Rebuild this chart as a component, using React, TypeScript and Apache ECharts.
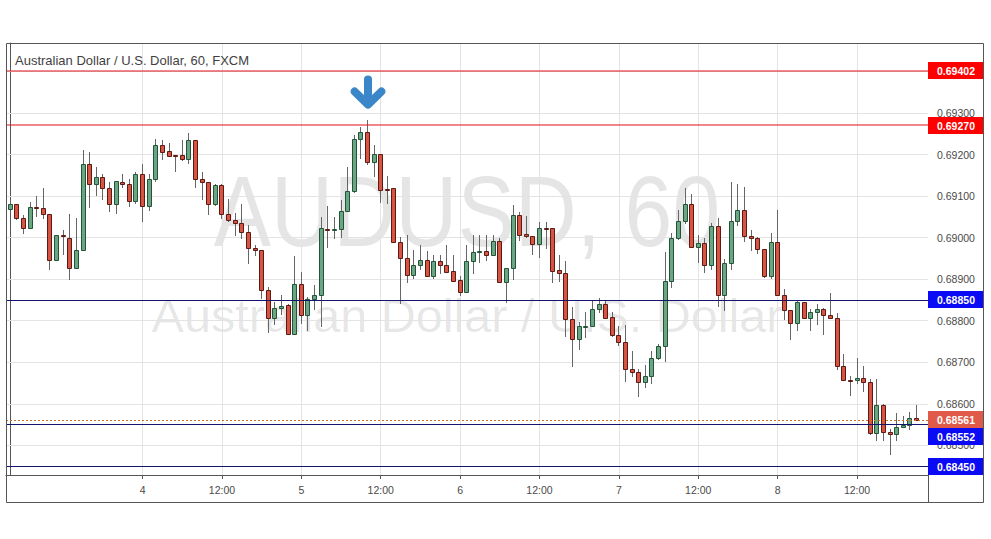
import React, { useEffect, useRef } from "react";
import * as echarts from "echarts";

// Hourly candles, AUD/USD 60, FXCM (index 0 = first visible hour)
const openPrices = [
  0.6907, 0.6908, 0.69046, 0.69022, 0.69074, 0.69072, 0.69058, 0.68947, 0.69006, 0.69,
  0.68928, 0.68971, 0.69178, 0.69128, 0.69145, 0.6912, 0.69082, 0.69135, 0.6913, 0.69088,
  0.69152, 0.69076, 0.6914, 0.69224, 0.69208, 0.69199, 0.69198, 0.69188, 0.69235, 0.69142,
  0.69133, 0.69082, 0.69126, 0.69057, 0.69043, 0.69034, 0.69014, 0.68976, 0.68971, 0.68875,
  0.68807, 0.68831, 0.68837, 0.68769, 0.68889, 0.68814, 0.68853, 0.68863, 0.69021, 0.6902,
  0.6902, 0.69064, 0.69113, 0.69237, 0.69253, 0.69182, 0.69202, 0.69117, 0.69119, 0.6899,
  0.68951, 0.68911, 0.68935, 0.68945, 0.68908, 0.68943, 0.68933, 0.68919, 0.68897, 0.68869,
  0.68943, 0.68965, 0.68967, 0.68959, 0.68991, 0.68893, 0.68927, 0.69055, 0.69009, 0.69004,
  0.68985, 0.69022, 0.69022, 0.68921, 0.68916, 0.68805, 0.68757, 0.68787, 0.68787, 0.68827,
  0.68841, 0.68808, 0.68766, 0.68749, 0.68684, 0.68676, 0.68652, 0.68667, 0.68711, 0.68738,
  0.68895, 0.69, 0.69039, 0.69082, 0.68978, 0.68988, 0.68933, 0.69027, 0.68861, 0.6894,
  0.69041, 0.69067, 0.69004, 0.68998, 0.68973, 0.68908, 0.6899, 0.68861, 0.68825, 0.68795,
  0.68845, 0.68807, 0.68821, 0.68827, 0.68814, 0.68807, 0.68692, 0.68658, 0.68658, 0.68663,
  0.68652, 0.6853, 0.68598, 0.68533, 0.68528, 0.68544, 0.68548, 0.68565,
];
const closePrices = [
  0.6908, 0.69046, 0.69022, 0.69074, 0.69073, 0.69058, 0.68947, 0.69006, 0.69003, 0.68928,
  0.68971, 0.69178, 0.69128, 0.69145, 0.6912, 0.69082, 0.69136, 0.69128, 0.69089, 0.69152,
  0.69076, 0.6914, 0.69224, 0.69206, 0.69197, 0.69198, 0.69188, 0.69235, 0.69142, 0.69133,
  0.69082, 0.69126, 0.69057, 0.69043, 0.69034, 0.69014, 0.68975, 0.68971, 0.68875, 0.68807,
  0.68831, 0.68836, 0.68769, 0.68889, 0.68814, 0.68853, 0.68863, 0.69022, 0.6902, 0.69021,
  0.69064, 0.69113, 0.69237, 0.69253, 0.69182, 0.69202, 0.69115, 0.69116, 0.6899, 0.68951,
  0.68911, 0.68935, 0.68945, 0.68908, 0.68943, 0.68933, 0.68917, 0.68896, 0.68869, 0.68943,
  0.68965, 0.68967, 0.68959, 0.68991, 0.68893, 0.68927, 0.69055, 0.69007, 0.69004, 0.68985,
  0.69022, 0.69021, 0.6892, 0.68916, 0.68805, 0.68757, 0.68787, 0.68788, 0.68827, 0.68841,
  0.68806, 0.68766, 0.68749, 0.68684, 0.68676, 0.68652, 0.68667, 0.68711, 0.68738, 0.68895,
  0.69, 0.69039, 0.69082, 0.68978, 0.68988, 0.68933, 0.69027, 0.68861, 0.6894, 0.69041,
  0.69067, 0.69004, 0.68998, 0.68973, 0.68908, 0.6899, 0.68861, 0.68825, 0.68795, 0.68845,
  0.68807, 0.68821, 0.68827, 0.68814, 0.68807, 0.68692, 0.68658, 0.68657, 0.68663, 0.68652,
  0.6853, 0.68598, 0.68533, 0.68528, 0.68544, 0.68548, 0.68565, 0.68561,
];
const highPrices = [
  0.6909, 0.69081, 0.69054, 0.69086, 0.691, 0.6912, 0.69058, 0.69007, 0.69018, 0.69058,
  0.69046, 0.69212, 0.69205, 0.6917, 0.69154, 0.69134, 0.69136, 0.69152, 0.69142, 0.69158,
  0.69178, 0.69154, 0.69237, 0.69235, 0.69227, 0.692, 0.69235, 0.69252, 0.69235, 0.69157,
  0.69134, 0.6913, 0.6913, 0.69092, 0.6906, 0.6908, 0.6903, 0.68982, 0.68971, 0.68881,
  0.68845, 0.68863, 0.68841, 0.68955, 0.68917, 0.68857, 0.68885, 0.6905, 0.69076, 0.6905,
  0.6909, 0.6917, 0.69247, 0.69267, 0.69283, 0.69224, 0.69202, 0.69148, 0.69119, 0.69002,
  0.69006, 0.68969, 0.68982, 0.68967, 0.68957, 0.68957, 0.68982, 0.68957, 0.68907, 0.68983,
  0.69006, 0.69006, 0.69006, 0.69006, 0.68999, 0.68927, 0.69078, 0.69062, 0.69051, 0.69004,
  0.69038, 0.69038, 0.69022, 0.68959, 0.68943, 0.68833, 0.68797, 0.68821, 0.68849, 0.68855,
  0.68849, 0.68822, 0.68787, 0.68789, 0.68726, 0.68684, 0.68694, 0.68726, 0.68745, 0.68965,
  0.6901, 0.69066, 0.6912, 0.69104, 0.69007, 0.68998, 0.69034, 0.69046, 0.68948, 0.69134,
  0.69129, 0.69122, 0.69018, 0.69002, 0.68973, 0.6901, 0.69066, 0.68876, 0.68825, 0.68849,
  0.68845, 0.68827, 0.68841, 0.68831, 0.68867, 0.68818, 0.6872, 0.68668, 0.6871, 0.68691,
  0.6866, 0.68659, 0.686, 0.6854, 0.68578, 0.68571, 0.6858, 0.68598,
];
const lowPrices = [
  0.69068, 0.69044, 0.69012, 0.69022, 0.69052, 0.69046, 0.68924, 0.68947, 0.68961, 0.68901,
  0.68928, 0.68971, 0.69074, 0.69102, 0.69094, 0.69064, 0.69059, 0.69122, 0.69076, 0.69084,
  0.69039, 0.69066, 0.69137, 0.6919, 0.69197, 0.6916, 0.69186, 0.6918, 0.69122, 0.69094,
  0.69056, 0.69078, 0.69046, 0.6904, 0.69006, 0.68998, 0.6894, 0.68957, 0.68855, 0.68773,
  0.68793, 0.68815, 0.68769, 0.68769, 0.68795, 0.68777, 0.68829, 0.68787, 0.68978, 0.68998,
  0.69002, 0.69064, 0.6911, 0.69192, 0.69176, 0.69149, 0.69086, 0.69084, 0.6899, 0.68843,
  0.68893, 0.68903, 0.68924, 0.68908, 0.68903, 0.68916, 0.68917, 0.68896, 0.68861, 0.68869,
  0.68915, 0.68941, 0.68945, 0.68957, 0.68893, 0.68845, 0.68901, 0.68994, 0.69002, 0.68961,
  0.68953, 0.68975, 0.68893, 0.68895, 0.68763, 0.68692, 0.68733, 0.68761, 0.68787, 0.68821,
  0.68806, 0.68763, 0.68741, 0.68654, 0.68668, 0.68618, 0.6864, 0.6865, 0.68708, 0.68704,
  0.68881, 0.68996, 0.69036, 0.68978, 0.68941, 0.68917, 0.68925, 0.68835, 0.68825, 0.68924,
  0.6903, 0.68991, 0.68969, 0.68964, 0.68906, 0.68903, 0.68861, 0.68803, 0.68755, 0.68777,
  0.68807, 0.68778, 0.68793, 0.68769, 0.68807, 0.68684, 0.68658, 0.68622, 0.6865, 0.6863,
  0.68528, 0.68512, 0.68512, 0.6848, 0.68514, 0.68544, 0.6854, 0.6856,
];

const timeTickIndex = [20, 32, 44, 56, 68, 80, 92, 104, 116, 128];
const timeTickLabels = ["4", "12:00", "5", "12:00", "6", "12:00", "7", "12:00", "8", "12:00"];
const priceTicks = [0.685, 0.686, 0.687, 0.688, 0.689, 0.69, 0.691, 0.692, 0.693, 0.694];
const resistanceLevels = [0.69402, 0.6927];
const supportLevels = [0.6885, 0.68552, 0.6845];
const signalCandleIndex = 54;
const chartTitle = "Australian Dollar / U.S. Dollar, 60, FXCM";
const watermarkSymbol = "AUDUSD, 60";
const watermarkName = "Australian Dollar / U.S. Dollar";

// axis window
const X_MIN = -0.65;
const X_MAX = 138.73;
const Y_MIN = 0.684286;
const Y_MAX = 0.694684;

const FONT = '"Liberation Sans", Arial, sans-serif';
const UP_FILL = "#6ba583";
const UP_BORDER = "#225437";
const DOWN_FILL = "#d75442";
const DOWN_BORDER = "#5b1a13";
const WICK = "#666666";
const GRID = "#e3e3e3";
const AXIS = "#555555";
const TEXT = "#4a4a4a";

// level kinds: 0 resistance, 1 support, 2 last price
const KIND_LINE = ["#e0101c", "#14146e", "#c8702a"];
const KIND_WIDTH = [1.2, 1, 1];
const KIND_CRISP = [false, true, true];
const KIND_TAG = ["#ff0000", "#0a0af5", "#df5a48"];
const TAG_W = 56;
const TAG_H = 17;

const ARROW_PATH =
  "path://M14,4 A4,4 0 0 1 22,4 L22,20 L28.5,13.5 A4,4 0 0 1 34.2,19.2 L20.8,32.6 A4,4 0 0 1 15.2,32.6 L1.8,19.2 A4,4 0 0 1 7.5,13.5 L14,20 Z";

function gridLine(a: number[], b: number[]) {
  const ls = { color: GRID, width: 1, type: "solid" };
  return [
    { coord: a, lineStyle: { ...ls } },
    { coord: b, lineStyle: { ...ls } },
  ];
}

function buildOption() {
  const candleRows = openPrices.map((o, i) => [i, o, closePrices[i], lowPrices[i], highPrices[i]]);
  const lastPrice = closePrices[closePrices.length - 1];
  const levelRows = [
    [X_MAX, lastPrice, 2],
    ...resistanceLevels.map((v) => [X_MAX, v, 0]),
    ...supportLevels.map((v) => [X_MAX, v, 1]),
  ];

  return {
    animation: false,
    backgroundColor: "#ffffff",
    grid: { left: 6, top: 43, right: 63, bottom: 64, containLabel: false, outerBoundsMode: "none" },
    xAxis: {
      type: "value",
      min: X_MIN,
      max: X_MAX,
      splitLine: { show: false },
      axisLine: { show: true, onZero: false, lineStyle: { color: AXIS, width: 1 } },
      axisTick: { show: true, length: 4, customValues: timeTickIndex, lineStyle: { color: AXIS } },
      axisLabel: {
        customValues: timeTickIndex,
        formatter: (v: number) => timeTickLabels[timeTickIndex.indexOf(Math.round(v))] ?? "",
        color: TEXT,
        fontSize: 10.5,
        fontFamily: FONT,
        margin: 9,
      },
    },
    yAxis: {
      type: "value",
      position: "right",
      min: Y_MIN,
      max: Y_MAX,
      splitLine: { show: false },
      axisLine: { show: true, lineStyle: { color: AXIS, width: 1 } },
      axisTick: { show: true, length: 4, customValues: priceTicks, lineStyle: { color: AXIS } },
      axisLabel: {
        customValues: priceTicks,
        formatter: (v: number) => v.toFixed(5),
        color: TEXT,
        fontSize: 10.5,
        fontFamily: FONT,
        margin: 9,
      },
    },
    graphic: [
      {
        type: "text",
        z: 0,
        silent: true,
        x: 467,
        y: 212,
        scaleX: 0.86,
        style: {
          text: watermarkSymbol,
          font: `100px ${FONT}`,
          fill: "rgba(0,0,0,0.1)",
          align: "center",
          verticalAlign: "middle",
          textAlign: "center",
          textVerticalAlign: "middle",
        },
      },
      {
        type: "text",
        z: 0,
        silent: true,
        x: 467,
        y: 316,
        scaleX: 1.055,
        style: {
          text: watermarkName,
          font: `46px ${FONT}`,
          fill: "rgba(0,0,0,0.1)",
          align: "center",
          verticalAlign: "middle",
          textAlign: "center",
          textVerticalAlign: "middle",
        },
      },
      {
        type: "text",
        z: 20,
        silent: true,
        x: 15,
        y: 60.5,
        style: {
          text: chartTitle,
          font: `13px ${FONT}`,
          fill: "#3f3f3f",
          align: "left",
          verticalAlign: "middle",
          textAlign: "left",
          textVerticalAlign: "middle",
        },
      },
      {
        type: "rect",
        z: 20,
        silent: true,
        shape: { x: 6.5, y: 43.5, width: 977, height: 459 },
        style: { fill: "none", stroke: AXIS, lineWidth: 1 },
      },
      {
        type: "line",
        z: 20,
        silent: true,
        shape: { x1: 928.5, y1: 475, x2: 928.5, y2: 503 },
        style: { stroke: AXIS, lineWidth: 1 },
      },
    ],
    series: [
      {
        // grid lines
        type: "line",
        data: [],
        silent: true,
        z: 1,
        markLine: {
          z: 1,
          silent: true,
          symbol: ["none", "none"],
          label: { show: false },
          lineStyle: { color: GRID, width: 1, type: "solid" },
          data: [
            ...timeTickIndex.map((v) => gridLine([v, Y_MIN], [v, Y_MAX])),
            ...priceTicks.map((v) => gridLine([X_MIN, v], [X_MAX, v])),
          ],
        },
      },
      {
        type: "custom",
        z: 3,
        encode: { x: 0, y: [1, 2, 3, 4] },
        data: candleRows,
        renderItem: (_params: any, api: any) => {
          const x = api.value(0);
          const o = api.value(1);
          const c = api.value(2);
          const l = api.value(3);
          const h = api.value(4);
          const pO = api.coord([x, o]);
          const pC = api.coord([x, c]);
          const pH = api.coord([x, h]);
          const pL = api.coord([x, l]);
          const X = Math.floor(pO[0]);
          const cx = X + 0.5;
          const yTop = Math.round(Math.min(pO[1], pC[1])) + 0.5;
          let yBot = Math.round(Math.max(pO[1], pC[1])) + 0.5;
          if (yBot - yTop < 1) yBot = yTop + 1;
          const up = c >= o;
          return {
            type: "group",
            children: [
              {
                type: "line",
                shape: { x1: cx, y1: Math.round(pH[1]), x2: cx, y2: Math.round(pL[1]) + 1 },
                style: { stroke: WICK, lineWidth: 1 },
              },
              {
                type: "rect",
                shape: { x: X - 1.5, y: yTop, width: 4, height: yBot - yTop },
                style: {
                  fill: up ? UP_FILL : DOWN_FILL,
                  stroke: up ? UP_BORDER : DOWN_BORDER,
                  lineWidth: 1,
                },
              },
            ],
          };
        },
      },
      {
        // horizontal levels with price tags
        type: "custom",
        z: 5,
        silent: true,
        clip: false,
        encode: { x: 0, y: 1 },
        data: levelRows,
        renderItem: (params: any, api: any) => {
          const v = api.value(1);
          const kind = api.value(2);
          const cs = params.coordSys;
          const yRaw = api.coord([X_MAX, v])[1];
          const y = KIND_CRISP[kind] ? Math.round(yRaw) + 0.5 : Math.round(yRaw);
          const lastY = api.coord([X_MAX, lastPrice])[1];
          let ty = yRaw;
          if (kind !== 2 && Math.abs(yRaw - lastY) < TAG_H) {
            ty = yRaw >= lastY ? lastY + TAG_H : lastY - TAG_H;
          }
          const right = cs.x + cs.width;
          const lineStyle: any = { stroke: KIND_LINE[kind], lineWidth: KIND_WIDTH[kind] };
          if (kind === 2) lineStyle.lineDash = [2, 2];
          return {
            type: "group",
            children: [
              {
                type: "line",
                shape: { x1: cs.x, y1: y, x2: right, y2: y },
                style: lineStyle,
              },
              {
                type: "rect",
                shape: { x: right, y: Math.round(ty - TAG_H / 2), width: TAG_W, height: TAG_H },
                style: { fill: KIND_TAG[kind] },
              },
              {
                type: "text",
                style: {
                  text: v.toFixed(5),
                  x: right + TAG_W / 2,
                  y: Math.round(ty - TAG_H / 2) + TAG_H / 2,
                  fill: "#ffffff",
                  font: `bold 10.5px ${FONT}`,
                  align: "center",
                  verticalAlign: "middle",
                  textAlign: "center",
                  textVerticalAlign: "middle",
                },
              },
            ],
          };
        },
      },
      {
        // signal arrow over the swing high
        type: "line",
        data: [],
        silent: true,
        z: 6,
        markPoint: {
          z: 6,
          silent: true,
          data: [
            {
              coord: [signalCandleIndex, highPrices[signalCandleIndex]],
              symbol: ARROW_PATH,
              symbolSize: [35, 33],
              symbolOffset: [0.5, -28],
              itemStyle: { color: "#3a86c8" },
              label: { show: false },
            },
          ],
        },
      },
    ],
  };
}

export default function App() {
  const ref = useRef<HTMLDivElement>(null);
  useEffect(() => {
    if (!ref.current) return;
    const chart = echarts.init(ref.current, null, { renderer: "svg" });
    chart.setOption(buildOption() as any);
    return () => chart.dispose();
  }, []);
  return (
    <div
      ref={ref}
      style={{ position: "fixed", left: 0, top: 0, width: 991, height: 539, background: "#ffffff" }}
    />
  );
}
